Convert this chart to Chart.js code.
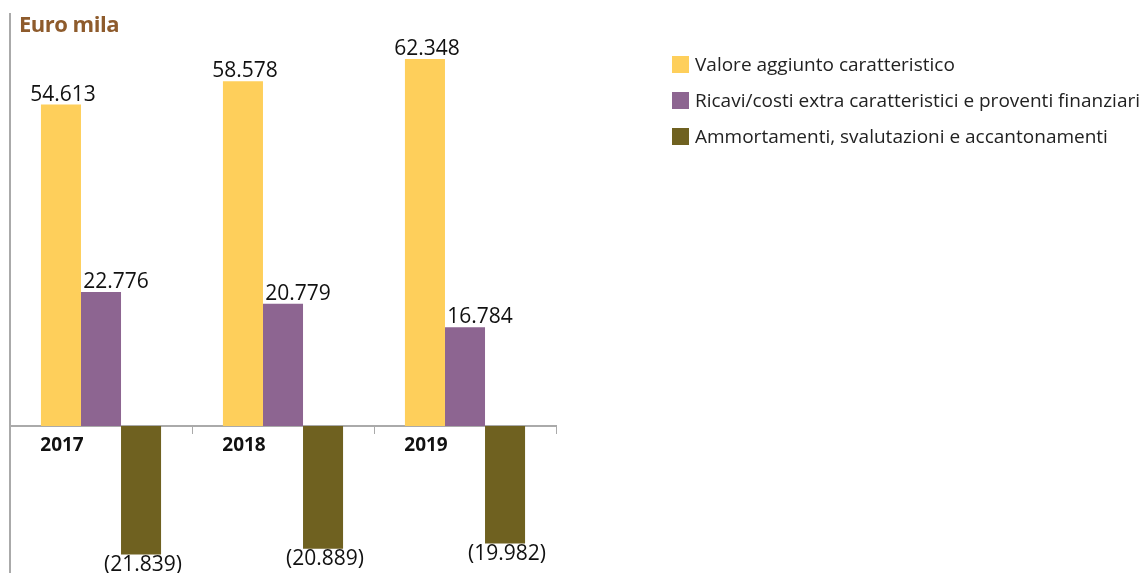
<!DOCTYPE html>
<html lang="it">
<head>
<meta charset="utf-8">
<script src="https://cdn.jsdelivr.net/npm/chart.js@4/dist/chart.umd.min.js"></script>
<style>
  html, body { margin: 0; padding: 0; background: #fff; }
  #wrap { position: relative; width: 1148px; height: 573px; }
  #titolo {
    position: absolute; left: 19px; top: 8px;
    font: bold 22px "Open Sans", sans-serif; color: #8E5B2C; letter-spacing: -0.5px;
  }
  #legenda { position: absolute; left: 672px; top: 46px; font: 19px "Open Sans", sans-serif; color: #222; white-space: nowrap; }
  .voce { display: flex; align-items: center; height: 36px; }
  .quadro { width: 17px; height: 17px; margin-right: 6px; flex: none; }
</style>
</head>
<body>
<div id="wrap">
  <canvas id="grafico" width="1148" height="573"></canvas>
  <div id="titolo">Euro mila</div>
  <div id="legenda"></div>
</div>
<script>
const ANNI = ['2017', '2018', '2019'];
const VALORE_AGGIUNTO = [54.613, 58.578, 62.348];
const RICAVI_EXTRA = [22.776, 20.779, 16.784];
const AMMORTAMENTI = [-21.839, -20.889, -19.982];

const SERIE = ['Valore aggiunto caratteristico', 'Ricavi/costi extra caratteristici e proventi finanziari', 'Ammortamenti, svalutazioni e accantonamenti'];
const COLORI = ['#FECF5B', '#8D6591', '#6F6120'];
// spostamento orizzontale delle etichette per serie
const SPOSTA = [2, 15, 2];

function formatta(v) {
  const s = Math.abs(v).toFixed(3);
  return v < 0 ? '(' + s + ')' : s;
}

// etichette sopra le barre positive e sotto quelle negative
const etichette = {
  id: 'etichette',
  afterDatasetsDraw(chart) {
    const ctx = chart.ctx;
    ctx.save();
    ctx.font = '21px "Open Sans", sans-serif';
    ctx.fillStyle = '#111';
    ctx.textAlign = 'center';
    chart.data.datasets.forEach((ds, i) => {
      chart.getDatasetMeta(i).data.forEach((bar, j) => {
        const v = ds.data[j];
        if (v >= 0) {
          ctx.textBaseline = 'alphabetic';
          ctx.fillText(formatta(v), bar.x + SPOSTA[i], bar.y - 4);
        } else {
          ctx.textBaseline = 'top';
          ctx.fillText(formatta(v), bar.x + SPOSTA[i], bar.y);
        }
      });
    });
    ctx.restore();
  }
};

const dati = [VALORE_AGGIUNTO, RICAVI_EXTRA, AMMORTAMENTI];

new Chart(document.getElementById('grafico'), {
  type: 'bar',
  data: {
    labels: ANNI,
    datasets: dati.map((d, i) => ({
      label: SERIE[i],
      data: d,
      backgroundColor: COLORI[i],
      borderWidth: 0,
      categoryPercentage: 0.66,
      barPercentage: 1.0
    }))
  },
  options: {
    responsive: false,
    animation: false,
    layout: { padding: { left: 2, right: 592, top: 14, bottom: 0 } },
    plugins: { legend: { display: false }, tooltip: { enabled: false } },
    scales: {
      x: {
        position: { y: 0 },
        grid: { drawOnChartArea: false, drawTicks: true, tickLength: 7, color: '#AAAAAA', offset: true },
        border: { display: true, color: '#AAAAAA', width: 2 },
        ticks: {
          color: '#111',
          font: { family: '"Open Sans", sans-serif', size: 19, weight: 'bold' },
          labelOffset: -39,
          padding: 1
        }
      },
      y: {
        min: -25,
        max: 70,
        grid: { display: false },
        border: { display: true, color: '#AAAAAA', width: 2 },
        ticks: { display: false }
      }
    }
  },
  plugins: [etichette]
});

const legenda = document.getElementById('legenda');
SERIE.forEach((nome, i) => {
  const voce = document.createElement('div');
  voce.className = 'voce';
  voce.innerHTML = `<span class="quadro" style="background:${COLORI[i]}"></span>${nome}`;
  legenda.appendChild(voce);
});
</script>
</body>
</html>
